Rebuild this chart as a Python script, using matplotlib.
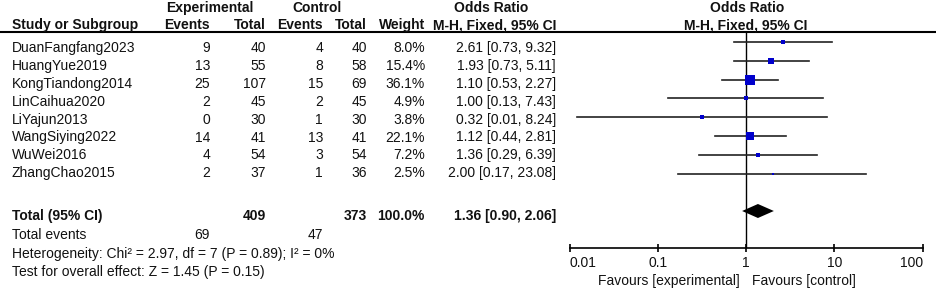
import matplotlib
matplotlib.use('Agg')
import matplotlib.pyplot as plt

plt.rcParams['font.family'] = ['Liberation Sans', 'DejaVu Sans']

studies = ['DuanFangfang2023', 'HuangYue2019', 'KongTiandong2014', 'LinCaihua2020',
           'LiYajun2013', 'WangSiying2022', 'WuWei2016', 'ZhangChao2015']
exp_events = [9, 13, 25, 2, 0, 14, 4, 2]
exp_total = [40, 55, 107, 45, 30, 41, 54, 37]
ctrl_events = [4, 8, 15, 2, 1, 13, 3, 1]
ctrl_total = [40, 58, 69, 45, 30, 41, 54, 36]
weights = [8.0, 15.4, 36.1, 4.9, 3.8, 22.1, 7.2, 2.5]
odds_ratio = [2.61, 1.93, 1.10, 1.00, 0.32, 1.12, 1.36, 2.00]
ci_low = [0.73, 0.73, 0.53, 0.13, 0.012, 0.44, 0.29, 0.17]
ci_high = [9.32, 5.11, 2.27, 7.43, 8.24, 2.81, 6.39, 23.08]

total_exp = 409
total_ctrl = 373
total_exp_events = 69
total_ctrl_events = 47
total_or = 1.36
total_low = 0.90
total_high = 2.06

ticks = [0.01, 0.1, 1, 10, 100]
tick_labels = ['0.01', '0.1', '1', '10', '100']

W, H = 937, 290
fig = plt.figure(figsize=(W / 100, H / 100), dpi=100)

# text layer in pixel coordinates
ax_t = fig.add_axes([0, 0, 1, 1])
ax_t.set_xlim(0, W)
ax_t.set_ylim(H, 0)
ax_t.axis('off')

fs = 10
col = '#111111'
hdr = dict(fontsize=fs, fontweight='bold', color=col, va='center')
txt = dict(fontsize=fs, color=col, va='center')

# headers
ax_t.text(210, 8, 'Experimental', ha='center', **hdr)
ax_t.text(317, 8, 'Control', ha='center', **hdr)
ax_t.text(491, 8, 'Odds Ratio', ha='center', **hdr)
ax_t.text(747, 8, 'Odds Ratio', ha='center', **hdr)
ax_t.text(12, 25, 'Study or Subgroup', ha='left', **hdr)
ax_t.text(210, 25, 'Events', ha='right', **hdr)
ax_t.text(266, 25, 'Total', ha='right', **hdr)
ax_t.text(323, 25, 'Events', ha='right', **hdr)
ax_t.text(367, 25, 'Total', ha='right', **hdr)
ax_t.text(425, 25, 'Weight', ha='right', **hdr)
ax_t.text(556, 25, 'M-H, Fixed, 95% CI', ha='right', **hdr)
ax_t.text(746, 25, 'M-H, Fixed, 95% CI', ha='center', **hdr)
ax_t.plot([0, W], [32, 32], color='black', lw=1.5)

for i, name in enumerate(studies):
    y = 48 + 17.9 * i
    ax_t.text(12, y, name, ha='left', **txt)
    ax_t.text(210, y, str(exp_events[i]), ha='right', **txt)
    ax_t.text(266, y, str(exp_total[i]), ha='right', **txt)
    ax_t.text(323, y, str(ctrl_events[i]), ha='right', **txt)
    ax_t.text(367, y, str(ctrl_total[i]), ha='right', **txt)
    ax_t.text(425, y, f'{weights[i]:.1f}%', ha='right', **txt)
    lo = max(ci_low[i], 0.01)
    ax_t.text(556, y, f'{odds_ratio[i]:.2f} [{lo:.2f}, {ci_high[i]:.2f}]', ha='right', **txt)

ax_t.text(12, 216, 'Total (95% CI)', ha='left', **hdr)
ax_t.text(266, 216, str(total_exp), ha='right', **hdr)
ax_t.text(367, 216, str(total_ctrl), ha='right', **hdr)
ax_t.text(425, 216, '100.0%', ha='right', **hdr)
ax_t.text(556, 216, f'{total_or:.2f} [{total_low:.2f}, {total_high:.2f}]', ha='right', **hdr)
ax_t.text(12, 235, 'Total events', ha='left', **txt)
ax_t.text(210, 235, str(total_exp_events), ha='right', **txt)
ax_t.text(323, 235, str(total_ctrl_events), ha='right', **txt)
ax_t.text(12, 254, 'Heterogeneity: Chi\u00b2 = 2.97, df = 7 (P = 0.89); I\u00b2 = 0%', ha='left', **txt)
ax_t.text(12, 272, 'Test for overall effect: Z = 1.45 (P = 0.15)', ha='left', **txt)
ax_t.text(740, 281, 'Favours [experimental]', ha='right', **txt)
ax_t.text(752, 281, 'Favours [control]', ha='left', **txt)

# forest panel
x0, x1, ytop, ybot = 569.6, 922.7, 32, 248
ax_f = fig.add_axes([x0 / W, (H - ybot) / H, (x1 - x0) / W, (ybot - ytop) / H])
ax_f.set_xscale('log')
ax_f.set_xlim(0.01, 100)
ax_f.set_ylim(ybot, ytop)
ax_f.patch.set_alpha(0)
for s in ['top', 'left', 'right']:
    ax_f.spines[s].set_visible(False)
ax_f.spines['bottom'].set_linewidth(1.2)
ax_f.set_yticks([])
ax_f.set_xticks(ticks)
ax_f.set_xticklabels(tick_labels)
ax_f.minorticks_off()
ax_f.tick_params(axis='x', direction='inout', length=6, width=1.2, pad=3,
                 labelsize=fs, labelcolor=col)
lbls = ax_f.get_xticklabels()
lbls[0].set_ha('left')
lbls[-1].set_ha('right')

ax_f.axvline(1, color='black', lw=1)

for i in range(len(studies)):
    y = 42 + 18.8 * i
    ax_f.plot([ci_low[i], ci_high[i]], [y, y], color='#222222', lw=1.2, clip_on=False)
    side_px = 1.5 * weights[i] ** 0.5 + 0.5
    ax_f.plot(odds_ratio[i], y, marker='s', color='#0000CC', markeredgewidth=0,
              markersize=side_px * 0.72, clip_on=False, zorder=3)

yd = 211
ax_f.fill([total_low, total_or, total_high, total_or], [yd, yd - 7, yd, yd + 7],
          color='black', lw=0)

fig.savefig('out.png', dpi=100)
